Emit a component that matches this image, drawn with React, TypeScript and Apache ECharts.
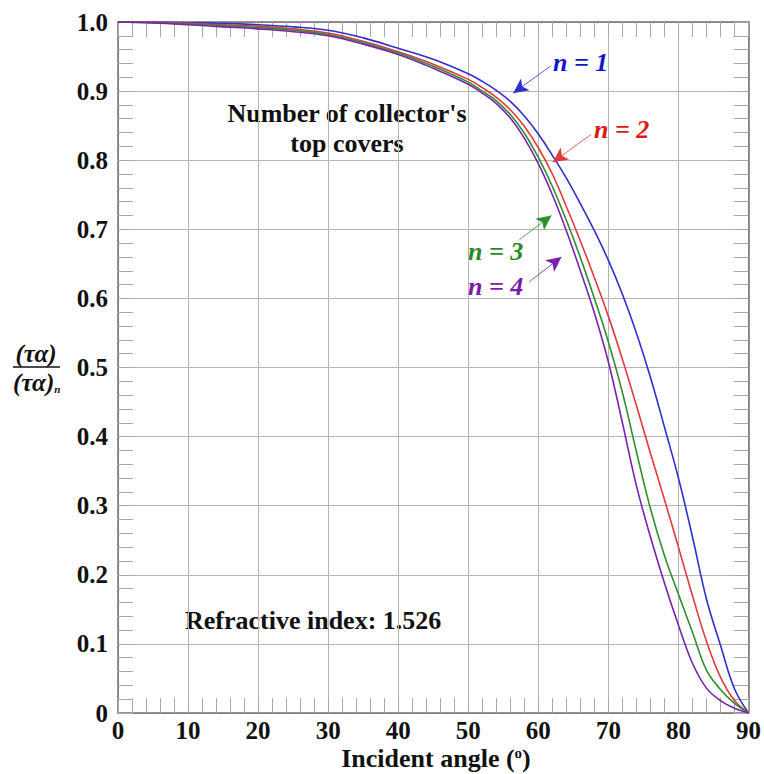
import React, { useEffect, useRef } from "react";
import * as echarts from "echarts";

const angles = [0, 5, 10, 15, 20, 25, 30, 35, 40, 45, 50, 52, 54, 56, 58, 60, 62, 64, 66, 68, 70, 72, 74, 76, 78, 80, 82, 84, 86, 88, 90];
const n1 = [1, 0.9998, 0.999, 0.998, 0.996, 0.993, 0.988, 0.977, 0.962, 0.946, 0.925, 0.914, 0.901, 0.885, 0.864, 0.838, 0.807, 0.774, 0.737, 0.698, 0.655, 0.606, 0.55, 0.486, 0.414, 0.34, 0.255, 0.165, 0.098, 0.035, 0];
const n2 = [1, 0.9995, 0.998, 0.996, 0.994, 0.99, 0.984, 0.972, 0.957, 0.939, 0.917, 0.905, 0.891, 0.873, 0.849, 0.818, 0.78, 0.733, 0.683, 0.63, 0.574, 0.512, 0.445, 0.376, 0.309, 0.24, 0.17, 0.104, 0.052, 0.018, 0];
const n3 = [1, 0.999, 0.997, 0.995, 0.992, 0.988, 0.982, 0.97, 0.955, 0.936, 0.913, 0.9, 0.886, 0.866, 0.839, 0.804, 0.762, 0.713, 0.659, 0.6, 0.537, 0.464, 0.378, 0.296, 0.228, 0.172, 0.117, 0.062, 0.034, 0.014, 0];
const n4 = [1, 0.9985, 0.996, 0.993, 0.99, 0.986, 0.98, 0.968, 0.953, 0.933, 0.91, 0.897, 0.882, 0.861, 0.832, 0.795, 0.75, 0.698, 0.64, 0.579, 0.508, 0.42, 0.329, 0.255, 0.188, 0.127, 0.072, 0.036, 0.018, 0.007, 0];

const seriesNames = ["n = 1", "n = 2", "n = 3", "n = 4"];
const seriesValues = [n1, n2, n3, n4];
const lineColors = ["#2f2fd0", "#e23a3a", "#2f8f2f", "#7a22b0"];
const textColors = ["#1414cc", "#e41414", "#2a8a2a", "#7a1aa8"];
// arrow [start, end] in data coordinates
const arrows = [
  [[61.7, 0.936], [56.4, 0.897]],
  [[67.5, 0.837], [62.07, 0.797]],
  [[57.3, 0.685], [61.88, 0.72]],
  [[58.7, 0.624], [63.3, 0.66]],
];

const SERIF = "'Liberation Serif', 'Times New Roman', serif";

export default function App() {
  const ref = useRef<HTMLDivElement>(null);
  useEffect(() => {
    if (!ref.current) return;
    const chart = echarts.init(ref.current, null, { renderer: "svg" });
    const gridCol = "#b4b4b4";
    const tickCol = "#a8a8a8";
    const axisLineCol = "#707070";
    const commonX = {
      type: "value",
      min: 0,
      max: 90,
      interval: 10,
      axisLine: { show: true, onZero: false, lineStyle: { color: axisLineCol, width: 1.5 } },
      axisTick: { show: true, inside: true, length: 15, lineStyle: { color: tickCol } },
      minorTick: { show: true, splitNumber: 5, length: 15, lineStyle: { color: tickCol, width: 1 } },
    };
    const commonY = {
      type: "value",
      min: 0,
      max: 1,
      interval: 0.1,
      axisLine: { show: true, onZero: false, lineStyle: { color: axisLineCol, width: 1.5 } },
      axisTick: { show: true, inside: true, length: 15, lineStyle: { color: tickCol } },
      minorTick: { show: true, splitNumber: 5, length: 15, lineStyle: { color: tickCol, width: 1 } },
    };
    const labelFont = { fontFamily: SERIF, fontWeight: "bold", fontSize: 25, color: "#111" };
    chart.setOption({
      animation: false,
      backgroundColor: "#ffffff",
      grid: { left: 118, top: 22, right: 12, bottom: 61 },
      xAxis: [
        {
          ...commonX,
          position: "bottom",
          splitLine: { show: true, lineStyle: { color: gridCol, width: 1 } },
          axisLabel: { ...labelFont, margin: 5 },
        },
        {
          ...commonX,
          position: "top",
          splitLine: { show: false },
          axisLabel: { show: false },
        },
      ],
      yAxis: [
        {
          ...commonY,
          position: "left",
          splitLine: { show: true, lineStyle: { color: gridCol, width: 1 } },
          axisLabel: {
            ...labelFont,
            margin: 10,
            formatter: (v: number) => (Math.abs(v) < 1e-9 ? "0" : v.toFixed(1)),
          },
        },
        {
          ...commonY,
          position: "right",
          splitLine: { show: false },
          axisLabel: { show: false },
        },
      ],
      series: seriesValues.map((vals, i) => ({
        name: seriesNames[i],
        type: "line",
        xAxisIndex: 0,
        yAxisIndex: 0,
        data: angles.map((a, k) => [a, vals[k]]),
        showSymbol: false,
        smooth: 0.4,
        lineStyle: { color: lineColors[i], width: 1.6 },
        itemStyle: { color: lineColors[i] },
        silent: true,
        markLine: {
          silent: true,
          symbol: ["none", "arrow"],
          symbolSize: [11, 15],
          label: { show: false },
          lineStyle: { color: lineColors[i], width: 0.8, type: "solid" },
          emphasis: { disabled: true },
          data: [[{ coord: arrows[i][0] }, { coord: arrows[i][1] }]],
        },
      })),
      graphic: [
        {
          type: "text",
          left: 553,
          top: 49,
          style: { text: "n = 1", fontFamily: SERIF, fontStyle: "italic", fontWeight: "bold", fontSize: 26, fill: textColors[0] },
        },
        {
          type: "text",
          left: 594,
          top: 116,
          style: { text: "n = 2", fontFamily: SERIF, fontStyle: "italic", fontWeight: "bold", fontSize: 26, fill: textColors[1] },
        },
        {
          type: "text",
          left: 468,
          top: 238,
          style: { text: "n = 3", fontFamily: SERIF, fontStyle: "italic", fontWeight: "bold", fontSize: 26, fill: textColors[2] },
        },
        {
          type: "text",
          left: 468,
          top: 273,
          style: { text: "n = 4", fontFamily: SERIF, fontStyle: "italic", fontWeight: "bold", fontSize: 26, fill: textColors[3] },
        },
        {
          type: "text",
          x: 347,
          y: 128,
          style: {
            text: "Number of collector's\ntop covers",
            align: "center",
            verticalAlign: "middle",
            lineHeight: 30,
            fontFamily: SERIF,
            fontWeight: "bold",
            fontSize: 26,
            fill: "#111",
          },
        },
        {
          type: "text",
          x: 185,
          y: 620,
          style: {
            text: "Refractive index: 1.526",
            verticalAlign: "middle",
            fontFamily: SERIF,
            fontWeight: "bold",
            fontSize: 26,
            fill: "#111",
          },
        },
        {
          type: "text",
          x: 436,
          y: 758,
          style: {
            text: "Incident angle ({sup|o})",
            align: "center",
            verticalAlign: "middle",
            fontFamily: SERIF,
            fontWeight: "bold",
            fontSize: 26,
            fill: "#111",
            rich: {
              sup: { fontFamily: SERIF, fontWeight: "bold", fontSize: 15, verticalAlign: "top", fill: "#111" },
            },
          },
        },
        {
          type: "text",
          x: 36,
          y: 353,
          style: {
            text: "(τα)",
            align: "center",
            verticalAlign: "middle",
            fontFamily: SERIF,
            fontStyle: "italic",
            fontWeight: "bold",
            fontSize: 25,
            fill: "#111",
          },
        },
        {
          type: "line",
          shape: { x1: 13, y1: 367, x2: 60, y2: 367 },
          style: { stroke: "#111", lineWidth: 1.5 },
        },
        {
          type: "text",
          x: 13,
          y: 382,
          style: {
            text: "(τα){sub|n}",
            verticalAlign: "middle",
            fontFamily: SERIF,
            fontStyle: "italic",
            fontWeight: "bold",
            fontSize: 25,
            fill: "#111",
            rich: {
              sub: { fontFamily: SERIF, fontStyle: "italic", fontWeight: "bold", fontSize: 11, verticalAlign: "bottom", fill: "#111" },
            },
          },
        },
      ],
    });
    return () => chart.dispose();
  }, []);
  return <div ref={ref} style={{ position: "absolute", left: 0, top: 0, width: 764, height: 774 }} />;
}
